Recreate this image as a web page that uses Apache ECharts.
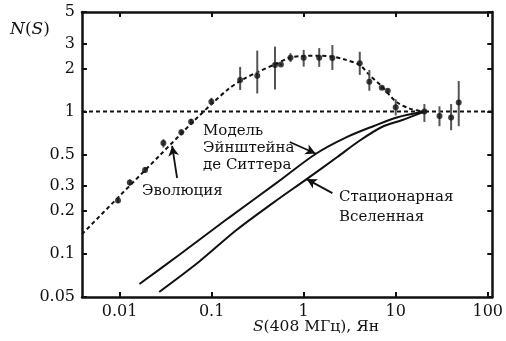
<!DOCTYPE html>
<html><head><meta charset="utf-8">
<script src="https://cdn.jsdelivr.net/npm/echarts@6/dist/echarts.min.js"></script>
<style>html,body{margin:0;padding:0;background:#fff}#c{width:506px;height:341px}</style>
</head><body><div id="c"></div>
<script>
// ---- data ----
const xMin = 0.0039, xMax = 112;
const yMin = 0.05, yMax = 5;
const xTicks = [0.01, 0.1, 1, 10, 100];
const yTicks = [0.05, 0.1, 0.2, 0.3, 0.5, 1, 2, 3, 5];

// observed source counts with error bars
const obsS  = [0.0096, 0.0129, 0.0189, 0.0299, 0.0468, 0.0598, 0.0993, 0.204, 0.313, 0.488, 0.566, 0.719, 1.0, 1.475, 2.05, 4.07, 5.17, 7.06, 8.2, 10.0, 20.5, 29.9, 40, 48.4];
const obsN  = [0.238, 0.318, 0.389, 0.603, 0.716, 0.849, 1.174, 1.667, 1.786, 2.12, 2.14, 2.39, 2.39, 2.39, 2.38, 2.18, 1.62, 1.47, 1.40, 1.075, 1.0, 0.93, 0.91, 1.16];
const obsLo = [0.228, 0.302, 0.372, 0.56, 0.68, 0.81, 1.11, 1.42, 1.34, 1.43, 2.10, 2.23, 2.07, 2.06, 1.96, 1.81, 1.40, 1.43, 1.36, 0.94, 0.845, 0.79, 0.74, 0.79];
const obsHi = [0.249, 0.334, 0.408, 0.64, 0.75, 0.89, 1.25, 2.06, 2.68, 2.86, 2.18, 2.57, 2.71, 2.79, 2.93, 2.63, 1.96, 1.51, 1.44, 1.22, 1.13, 1.09, 1.13, 1.64];

// dashed "evolution" curve
const fitS = [0.0039, 0.01, 0.0269, 0.064, 0.1, 0.152, 0.221, 0.32, 0.5, 0.724, 1.0, 1.49, 2.05, 2.74, 4.07, 5.17, 7.07, 10, 14.2, 20.5];
const fitN = [0.138, 0.256, 0.488, 0.859, 1.13, 1.44, 1.69, 1.90, 2.16, 2.40, 2.46, 2.47, 2.43, 2.33, 2.12, 1.81, 1.50, 1.18, 1.05, 1.0];

// Einstein - de Sitter model
const edsS = [0.0164, 0.0442, 0.152, 0.525, 1.346, 2.97, 5.79, 10.3, 20.5];
const edsN = [0.0617, 0.0986, 0.179, 0.321, 0.504, 0.664, 0.793, 0.91, 1.0];

// steady-state universe
const ssS = [0.0269, 0.0724, 0.186, 0.465, 1.077, 2.32, 4.0, 7.07, 11.6, 20.5];
const ssN = [0.0542, 0.088, 0.1476, 0.229, 0.336, 0.480, 0.622, 0.780, 0.87, 1.0];

const refLevel = 1;

// annotation arrows [from, to] in data coordinates
const arrowEvo  = [[0.0421, 0.342], [0.0372, 0.574]];
const arrowEdS  = [[0.706, 0.612], [1.346, 0.508]];
const arrowSS   = [[2.05, 0.268], [1.077, 0.336]];

// ---- chart ----
const font = 'DejaVu Serif';
const ink = '#111';
const fmt = v => String(+Number(v).toPrecision(3));
const tickStyle = {show: true, inside: true, length: 5, lineStyle: {color: ink, width: 2}};
const lineStyleAxis = {show: true, onZero: false, lineStyle: {color: ink, width: 2.5}};

const chart = echarts.init(document.getElementById('c'), null, {renderer: 'canvas'});
const zip = (a, b) => a.map((v, i) => [v, b[i]]);

chart.setOption({
  animation: false,
  backgroundColor: '#fff',
  textStyle: {fontFamily: font},
  grid: {left: 82, right: 9, top: 12, bottom: 44, containLabel: false},
  xAxis: [
    {type: 'log', logBase: 10, min: xMin, max: xMax, position: 'bottom',
     axisLine: lineStyleAxis, axisTick: Object.assign({customValues: xTicks}, tickStyle),
     minorTick: {show: false}, splitLine: {show: false},
     axisLabel: {customValues: xTicks, formatter: fmt, color: ink, fontFamily: font, fontSize: 16, margin: 7}},
    {type: 'log', logBase: 10, min: xMin, max: xMax, position: 'top',
     axisLine: lineStyleAxis, axisTick: Object.assign({customValues: xTicks}, tickStyle),
     minorTick: {show: false}, splitLine: {show: false}, axisLabel: {show: false}}
  ],
  yAxis: [
    {type: 'log', logBase: 10, min: yMin, max: yMax, position: 'left',
     axisLine: lineStyleAxis, axisTick: Object.assign({customValues: yTicks}, tickStyle),
     minorTick: {show: false}, splitLine: {show: false},
     axisLabel: {customValues: yTicks, formatter: fmt, color: ink, fontFamily: font, fontSize: 16, margin: 7}},
    {type: 'log', logBase: 10, min: yMin, max: yMax, position: 'right',
     axisLine: lineStyleAxis, axisTick: Object.assign({customValues: yTicks}, tickStyle),
     minorTick: {show: false}, splitLine: {show: false}, axisLabel: {show: false}}
  ],
  series: [
    {type: 'line', name: 'ref', data: [[xMin, refLevel], [xMax, refLevel]], symbol: 'none',
     lineStyle: {color: ink, width: 2, type: [4, 3]}, z: 1},
    {type: 'line', name: 'fit', data: zip(fitS, fitN), symbol: 'none', smooth: 0.3,
     lineStyle: {color: ink, width: 2, type: [4, 3]}, z: 2},
    {type: 'line', name: 'eds', data: zip(edsS, edsN), symbol: 'none', smooth: 0.3,
     lineStyle: {color: ink, width: 2}, z: 2},
    {type: 'line', name: 'ss', data: zip(ssS, ssN), symbol: 'none', smooth: 0.3,
     lineStyle: {color: ink, width: 2}, z: 2,
     markLine: {silent: true, symbol: ['none', 'arrow'], symbolSize: [8, 10], precision: 6,
       label: {show: false}, lineStyle: {color: ink, width: 1.8, type: 'solid'},
       data: [arrowEvo, arrowEdS, arrowSS].map(a => [{coord: a[0]}, {coord: a[1]}])}},
    {type: 'custom', name: 'err', z: 3,
     data: obsS.map((s, i) => [s, obsLo[i], obsHi[i]]),
     encode: {x: 0, y: [1, 2]},
     renderItem: (params, api) => {
       const x = api.value(0);
       const p1 = api.coord([x, api.value(1)]);
       const p2 = api.coord([x, api.value(2)]);
       return {type: 'line', shape: {x1: p1[0], y1: p1[1], x2: p2[0], y2: p2[1]},
               style: {stroke: '#555', lineWidth: 2}};
     }},
    {type: 'scatter', name: 'obs', data: zip(obsS, obsN), symbol: 'circle', symbolSize: 6,
     itemStyle: {color: ink}, z: 4}
  ],
  graphic: [
    {type: 'text', x: 10, y: 30, style: {text: '{i|N}({i|S})', fill: ink, fontFamily: font, fontSize: 17, verticalAlign: 'middle',
      rich: {i: {fontStyle: 'italic', fontFamily: font, fontSize: 17, fill: ink}}}},
    {type: 'text', x: 253, y: 327, style: {text: '{i|S}(408 МГц), Ян', fill: ink, fontFamily: font, fontSize: 15.5, verticalAlign: 'middle',
      rich: {i: {fontStyle: 'italic', fontFamily: font, fontSize: 15.5, fill: ink}}}},
    {type: 'text', x: 203, y: 131, style: {text: 'Модель', fill: ink, fontFamily: font, fontSize: 15, verticalAlign: 'middle'}},
    {type: 'text', x: 203, y: 148, style: {text: 'Эйнштейна', fill: ink, fontFamily: font, fontSize: 15, verticalAlign: 'middle'}},
    {type: 'text', x: 203, y: 165, style: {text: 'де Ситтера', fill: ink, fontFamily: font, fontSize: 15, verticalAlign: 'middle'}},
    {type: 'text', x: 142, y: 191, style: {text: 'Эволюция', fill: ink, fontFamily: font, fontSize: 15, verticalAlign: 'middle'}},
    {type: 'text', x: 339, y: 197, style: {text: 'Стационарная', fill: ink, fontFamily: font, fontSize: 15, verticalAlign: 'middle'}},
    {type: 'text', x: 339, y: 217, style: {text: 'Вселенная', fill: ink, fontFamily: font, fontSize: 15, verticalAlign: 'middle'}}
  ]
});
</script>
</body></html>
